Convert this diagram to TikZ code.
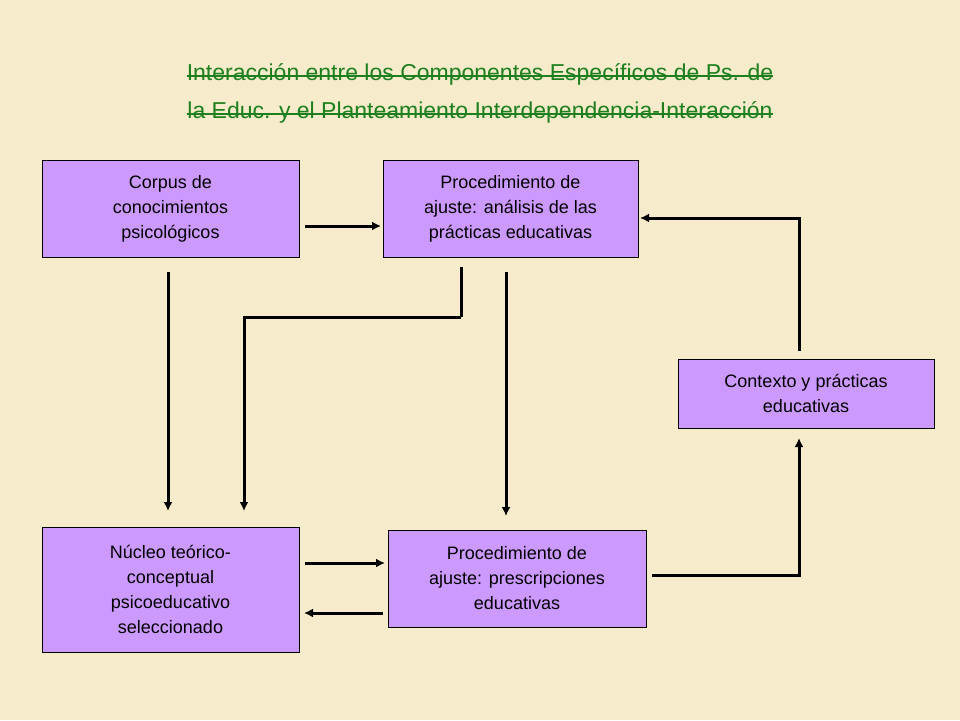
\documentclass[tikz,border=0pt]{standalone}
\usepackage{fontspec}
\setmainfont{Liberation Sans}
\usetikzlibrary{arrows.meta}
\definecolor{bg}{HTML}{F6ECCB}
\definecolor{boxc}{HTML}{CC99FF}
\definecolor{ttl}{HTML}{1E7F1E}
\begin{document}
\begin{tikzpicture}[x=1pt,y=-1pt,
  box/.style={draw=black,fill=boxc,align=center,font=\fontsize{18}{25}\selectfont,inner sep=0pt},
  ttlline/.style={text=ttl,font=\fontsize{23}{28}\selectfont,inner sep=0pt,anchor=base},
  arr/.style={line width=3pt,-{Latex[length=9pt,width=9pt]}},
  ln/.style={line width=3pt}]
\fill[bg] (0,0) rectangle (960,720);
\useasboundingbox (0,0) rectangle (960,720);
\node[ttlline] (t1) at (480,80) {Interacción entre los Componentes Específicos de Ps. de};
\node[ttlline] (t2) at (480,118) {la Educ. y el Planteamiento Interdependencia-Interacción};
\draw[ttl,line width=1.5pt] ([yshift=4pt]t1.base west) -- ([yshift=4pt]t1.base east);
\draw[ttl,line width=1.5pt] ([yshift=4pt]t2.base west) -- ([yshift=4pt]t2.base east);
\node[box,minimum width=257pt,minimum height=97pt] (A) at (170.5,208.5) {Corpus de\\conocimientos\\psicológicos};
\node[box,minimum width=255pt,minimum height=97pt] (B) at (510.5,208.5) {Procedimiento de\\ajuste: análisis de las\\prácticas educativas};
\node[box,minimum width=256pt,minimum height=69pt] (C) at (806,393.5) {Contexto y prácticas\\educativas};
\node[box,minimum width=257pt,minimum height=125pt] (D) at (170.5,589.5) {Núcleo teórico-\\conceptual\\psicoeducativo\\seleccionado};
\node[box,minimum width=258pt,minimum height=97pt] (E) at (517,578.5) {Procedimiento de\\ajuste: prescripciones\\educativas};
\coordinate (a1) at (305,226); \coordinate (a2) at (381,226);
\draw[arr] (a1) -- (a2);
\coordinate (b1) at (168,272); \coordinate (b2) at (168,511);
\draw[arr] (b1) -- (b2);
\coordinate (c1) at (461,267); \coordinate (c2) at (461,317); \coordinate (c3) at (244,317); \coordinate (c4) at (244,511);
\draw[ln] (c1) -- (c2); \draw[arr] (c2) -- (c3) -- (c4);
\coordinate (d1) at (506,272); \coordinate (d2) at (506,516);
\draw[arr] (d1) -- (d2);
\coordinate (e1) at (305,563); \coordinate (e2) at (385,563);
\draw[arr] (e1) -- (e2);
\coordinate (f1) at (383,613); \coordinate (f2) at (304,613);
\draw[arr] (f1) -- (f2);
\coordinate (g1) at (652,575); \coordinate (g2) at (799,575); \coordinate (g3) at (799,438);
\draw[arr] (g1) -- (g2) -- (g3);
\coordinate (h1) at (799,351); \coordinate (h2) at (799,218); \coordinate (h3) at (640,218);
\draw[arr] (h1) -- (h2) -- (h3);
\end{tikzpicture}
\end{document}
